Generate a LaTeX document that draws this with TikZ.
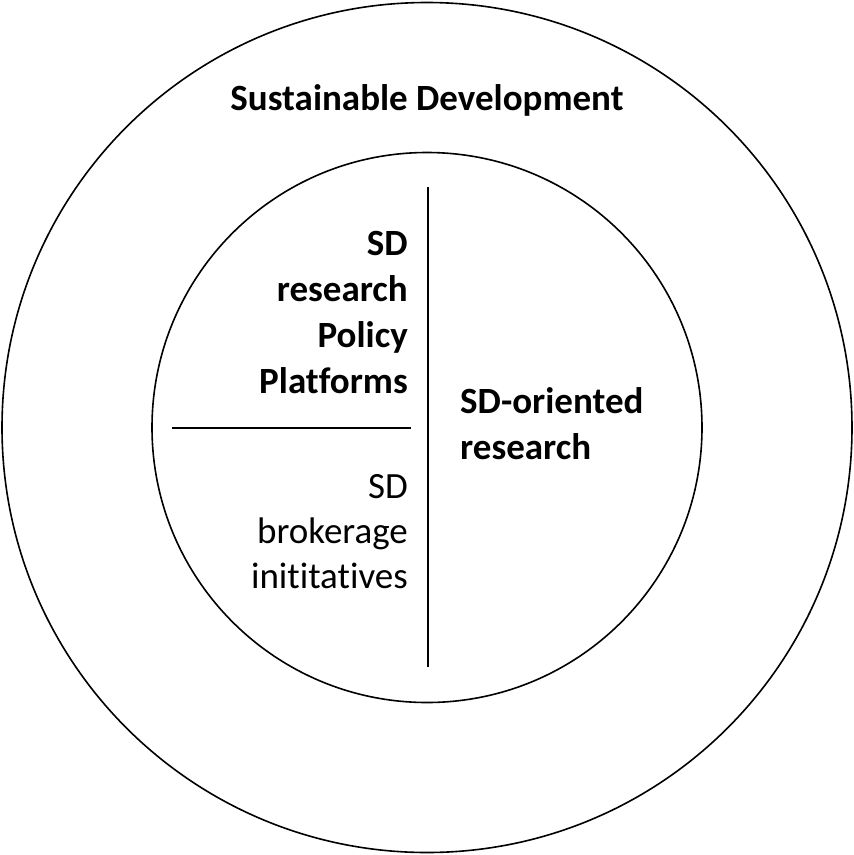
\documentclass[tikz,border=0pt]{standalone}
\usepackage{fontspec}
\setmainfont{Carlito}[Ligatures={NoCommon}]
\begin{document}
\begin{tikzpicture}[x=1pt,y=-1pt,
  ring/.style={draw=black,line width=1.6pt},
  divider/.style={draw=black,line width=1.6pt},
  lbl/.style={inner sep=0pt,font=\fontsize{37}{46}\selectfont},
  blbl/.style={lbl,font=\fontsize{37}{46}\selectfont\bfseries}]
\useasboundingbox (0,0) rectangle (854,855);
\node[ring,circle,minimum size=850pt,inner sep=0pt] (outer) at (427,427.5) {};
\node[ring,circle,minimum size=550pt,inner sep=0pt] (inner) at (427,427.5) {};
\coordinate (vt) at (428,187);
\coordinate (vb) at (428,667);
\coordinate (hl) at (172,428);
\coordinate (hr) at (411,428);
\draw[divider] (vt) -- (vb);
\draw[divider] (hl) -- (hr);
\node[blbl,anchor=base] (title) at (427,110) {Sustainable Development};
\node[blbl,anchor=base east] (p1) at (408,255) {SD};
\node[blbl,anchor=base east] (p2) at (408,301) {research};
\node[blbl,anchor=base east] (p3) at (408,347) {Policy};
\node[blbl,anchor=base east] (p4) at (408,393) {Platforms};
\node[blbl,anchor=base west] (o1) at (460,413) {SD-oriented};
\node[blbl,anchor=base west] (o2) at (460,459) {research};
\node[lbl,anchor=base east] (b1) at (408,498) {SD};
\node[lbl,anchor=base east] (b2) at (408,543) {brokerage};
\node[lbl,anchor=base east] (b3) at (408,588) {inititatives};
\end{tikzpicture}
\end{document}
